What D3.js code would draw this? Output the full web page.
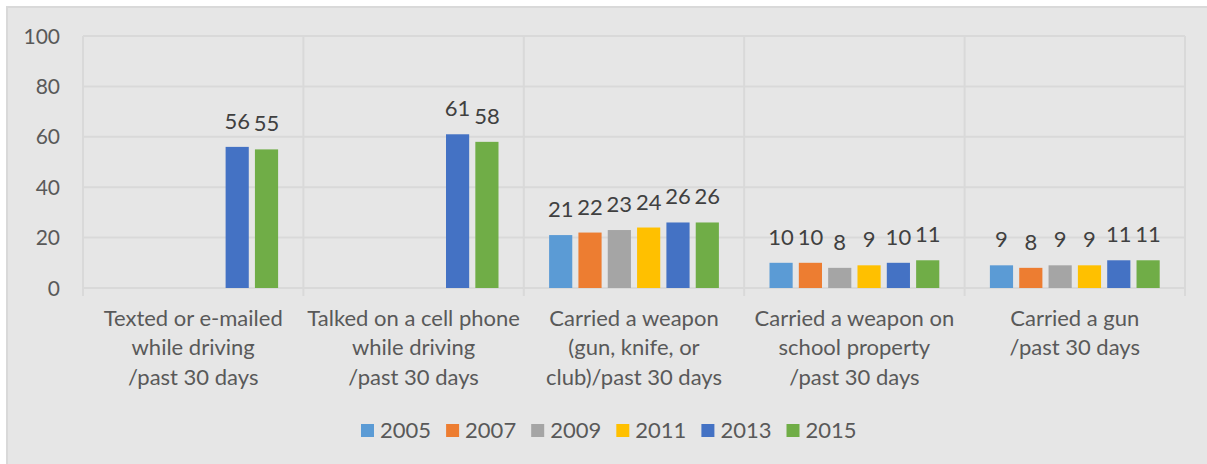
<!DOCTYPE html>
<html>
<head>
<meta charset="utf-8">
<script src="https://cdnjs.cloudflare.com/ajax/libs/d3/7.8.5/d3.min.js"></script>
<style>
  body { margin: 0; background: #fff; }
  text { font-family: Lato, "Noto Sans", sans-serif; }
</style>
</head>
<body>
<script>
// chart data
const categories = [
  ["Texted or e-mailed", "while driving", "/past 30 days"],
  ["Talked on a cell phone", "while driving", "/past 30 days"],
  ["Carried a weapon", "(gun, knife, or", "club)/past 30 days"],
  ["Carried a weapon on", "school property", "/past 30 days"],
  ["Carried a gun", "/past 30 days"]
];
const years = ["2005", "2007", "2009", "2011", "2013", "2015"];
const colors = ["#5B9BD5", "#ED7D31", "#A5A5A5", "#FFC000", "#4472C4", "#70AD47"];
const yTicks = [0, 20, 40, 60, 80, 100];

// one list per year, in category order (null = not asked)
const v2005 = [null, null, 21, 10, 9];
const v2007 = [null, null, 22, 10, 8];
const v2009 = [null, null, 23, 8, 9];
const v2011 = [null, null, 24, 9, 9];
const v2013 = [56, 61, 26, 10, 11];
const v2015 = [55, 58, 26, 11, 11];
const series = [v2005, v2007, v2009, v2011, v2013, v2015];

const W = 1207, H = 464;
const plotL = 83, plotR = 1185, plotT = 36, plotB = 288;

const svg = d3.select("body").append("svg")
  .attr("width", W).attr("height", H);

// chart area background + border
svg.append("rect")
  .attr("x", 7).attr("y", 7).attr("width", W).attr("height", H)
  .attr("fill", "#e6e6e6").attr("stroke", "#d9d9d9").attr("stroke-width", 2);

const x0 = d3.scaleBand()
  .domain(d3.range(categories.length))
  .range([plotL, plotR])
  .paddingInner(0).paddingOuter(0);

const x1 = d3.scaleBand()
  .domain(years)
  .range([25.3, x0.bandwidth() - 25.3])
  .paddingInner(0.21).paddingOuter(0);

const y = d3.scaleLinear().domain([0, 100]).range([plotB, plotT]);

// gridlines
svg.append("g").selectAll("line")
  .data(yTicks)
  .join("line")
  .attr("x1", plotL).attr("x2", plotR)
  .attr("y1", d => y(d)).attr("y2", d => y(d))
  .attr("stroke", "#d9d9d9").attr("stroke-width", 2);

// category separators (extend below axis as tick marks)
svg.append("g").selectAll("line")
  .data(d3.range(categories.length + 1))
  .join("line")
  .attr("x1", i => i < categories.length ? x0(i) : plotR)
  .attr("x2", i => i < categories.length ? x0(i) : plotR)
  .attr("y1", plotT).attr("y2", plotB + 8)
  .attr("stroke", "#d9d9d9").attr("stroke-width", 2);

// y axis labels
svg.append("g").selectAll("text")
  .data(yTicks)
  .join("text")
  .attr("x", 60).attr("y", d => y(d))
  .attr("dy", "0.36em")
  .attr("text-anchor", "end")
  .attr("font-size", 21)
  .attr("fill", "#595959")
  .text(d => d);

// bars
const groups = svg.append("g").selectAll("g")
  .data(categories)
  .join("g")
  .attr("transform", (d, i) => "translate(" + x0(i) + ",0)");

const cells = groups.selectAll("g")
  .data((d, i) => years.map((yr, j) => ({ yr: yr, j: j, v: series[j][i] })).filter(c => c.v !== null))
  .join("g");

cells.append("rect")
  .attr("x", d => x1(d.yr))
  .attr("width", x1.bandwidth())
  .attr("y", d => y(d.v))
  .attr("height", d => y(0) - y(d.v))
  .attr("fill", d => colors[d.j]);

cells.append("text")
  .attr("x", d => x1(d.yr) + x1.bandwidth() / 2)
  .attr("y", d => y(d.v) - 18)
  .attr("text-anchor", "middle")
  .attr("font-size", 22)
  .attr("fill", "#404040")
  .text(d => d.v);

// category labels
const labs = svg.append("g").selectAll("text")
  .data(categories)
  .join("text")
  .attr("x", (d, i) => x0(i) + x0.bandwidth() / 2)
  .attr("y", 326)
  .attr("text-anchor", "middle")
  .attr("font-size", 22)
  .attr("fill", "#595959");

labs.selectAll("tspan")
  .data(d => d)
  .join("tspan")
  .attr("x", function () { return this.parentNode.getAttribute("x"); })
  .attr("dy", (d, k) => k === 0 ? 0 : 29.3)
  .text(d => d);

// legend
const legend = svg.append("g").selectAll("g")
  .data(years)
  .join("g")
  .attr("transform", (d, i) => "translate(" + (361 + i * 85.1) + ",424)");

legend.append("rect")
  .attr("width", 13).attr("height", 13)
  .attr("fill", (d, i) => colors[i]);

legend.append("text")
  .attr("x", 19).attr("y", 14)
  .attr("font-size", 22)
  .attr("fill", "#595959")
  .text(d => d);
</script>
</body>
</html>
